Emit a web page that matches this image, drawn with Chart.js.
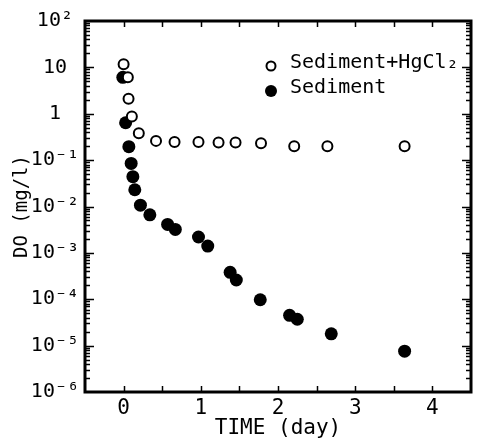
<!DOCTYPE html>
<html>
<head>
<meta charset="utf-8">
<script src="https://cdn.jsdelivr.net/npm/chart.js@4/dist/chart.umd.min.js"></script>
<style>
html,body{margin:0;padding:0;background:#fff;}
#wrap{width:478px;height:441px;}
</style>
</head>
<body>
<div id="wrap"><canvas id="c" width="478" height="441"></canvas></div>
<script>
// ---- data ----
const hgTime = [0.00, 0.055, 0.064, 0.107, 0.197, 0.42, 0.66, 0.97, 1.23, 1.45, 1.78, 2.21, 2.64, 3.64];
const hgDO   = [11.7, 6.1, 2.1, 0.87, 0.38, 0.26, 0.245, 0.245, 0.24, 0.24, 0.23, 0.20, 0.20, 0.20];
const sedTime = [-0.01, 0.026, 0.068, 0.098, 0.12, 0.145, 0.218, 0.34, 0.57, 0.67, 0.97, 1.09, 1.38, 1.46, 1.77, 2.15, 2.25, 2.69, 3.64];
const sedDO   = [6.1, 0.64, 0.195, 0.085, 0.044, 0.023, 0.0107, 0.0066, 0.0041, 0.0032, 0.0022, 0.0014, 0.00038, 0.00026, 0.0000975, 4.5e-5, 3.7e-5, 1.8e-5, 7.6e-6];
const seriesNames = ['Sediment+HgCl\u2082', 'Sediment'];
const xTickValues = [0, 1, 2, 3, 4];
const xTickLabels = ['0', '1', '2', '3', '4'];
const yTickValues = [1e-6, 1e-5, 1e-4, 1e-3, 1e-2, 1e-1, 1, 10, 100];
const yTickLabels = ['10\u207B\u2076', '10\u207B\u2075', '10\u207B\u2074', '10\u207B\u00B3', '10\u207B\u00B2', '10\u207B\u00B9', '1', '10', '10\u00B2'];
const xTitle = 'TIME (day)';
const yTitle = 'DO (mg/l)';

const FONT = "'DejaVu Sans Mono', monospace";

const frame = {
  id: 'frame',
  afterDatasetsDraw(chart) {
    const ctx = chart.ctx, a = chart.chartArea;
    const xs = chart.scales.x, ys = chart.scales.y;
    ctx.save();
    ctx.strokeStyle = '#000';
    // ticks
    ctx.lineWidth = 1.5;
    ctx.beginPath();
    for (let v = -0.5; v <= 4.5001; v += 0.5) {
      const px = Math.round(xs.getPixelForValue(v)) + 0.5;
      if (px <= a.left + 2 || px >= a.right - 2) continue;
      ctx.moveTo(px, a.bottom); ctx.lineTo(px, a.bottom - 6);
      ctx.moveTo(px, a.top); ctx.lineTo(px, a.top + 6);
    }
    for (let d = -6; d <= 1; d++) {
      for (let m = 1; m <= 9; m++) {
        const v = m * Math.pow(10, d);
        const py = Math.round(ys.getPixelForValue(v)) + 0.5;
        const len = m === 1 ? 9 : 5;
        if (m === 1 && d === -6) continue;
        ctx.moveTo(a.left, py); ctx.lineTo(a.left + len, py);
        ctx.moveTo(a.right, py); ctx.lineTo(a.right - len, py);
      }
    }
    ctx.stroke();
    // box
    ctx.lineWidth = 3;
    ctx.strokeRect(a.left, a.top, a.right - a.left, a.bottom - a.top);
    // legend
    const ds = chart.data.datasets;
    const rows = [{y: 66, r: 4.5}, {y: 91, r: 6}];
    ctx.font = "20px " + FONT;
    ctx.textBaseline = 'middle';
    ctx.textAlign = 'left';
    rows.forEach((row, i) => {
      const d = ds[i];
      ctx.beginPath();
      ctx.arc(271, row.y, row.r, 0, Math.PI * 2);
      ctx.fillStyle = d.pointBackgroundColor;
      ctx.fill();
      if (d.pointBorderWidth > 0) {
        ctx.lineWidth = 2;
        ctx.strokeStyle = d.pointBorderColor;
        ctx.stroke();
      }
      ctx.fillStyle = '#000';
      ctx.fillText(d.label, 290, row.y - 3);
    });
    ctx.restore();
  }
};

new Chart(document.getElementById('c'), {
  type: 'scatter',
  data: {
    datasets: [
      {
        label: seriesNames[0],
        data: hgTime.map((t, i) => ({x: t, y: hgDO[i]})),
        pointRadius: 5, pointHoverRadius: 5,
        pointBackgroundColor: '#fff', pointBorderColor: '#000', pointBorderWidth: 2,
        showLine: false
      },
      {
        label: seriesNames[1],
        data: sedTime.map((t, i) => ({x: t, y: sedDO[i]})),
        pointRadius: 6.5, pointHoverRadius: 6.5,
        pointBackgroundColor: '#000', pointBorderColor: '#000', pointBorderWidth: 0,
        showLine: false
      }
    ]
  },
  options: {
    responsive: false,
    devicePixelRatio: 1,
    animation: false,
    events: [],
    layout: {padding: {left: 0, top: 21, right: 4, bottom: 0}},
    plugins: {legend: {display: false}, tooltip: {enabled: false}},
    scales: {
      x: {
        type: 'linear', min: -0.5, max: 4.5,
        afterBuildTicks: s => { s.ticks = xTickValues.map(v => ({value: v})); },
        afterFit: s => { s.height = 49; },
        grid: {display: false, drawTicks: false},
        border: {display: false},
        ticks: {
          color: '#000', padding: 4,
          font: {family: FONT, size: 21},
          callback: (v, i) => xTickLabels[i]
        },
        title: {display: true, text: xTitle, color: '#000', font: {family: FONT, size: 21}, padding: {top: 0, bottom: 0}}
      },
      y: {
        type: 'logarithmic', min: 1e-6, max: 100,
        afterBuildTicks: s => { s.ticks = yTickValues.map(v => ({value: v})); },
        afterFit: s => { s.width = 85; },
        grid: {display: false, drawTicks: false},
        border: {display: false},
        ticks: {
          color: '#000', padding: 6, crossAlign: 'center',
          font: {family: FONT, size: 20},
          callback: (v, i) => yTickLabels[i]
        },
        title: {display: true, text: yTitle, color: '#000', font: {family: FONT, size: 19}, padding: {top: 11, bottom: 0}}
      }
    }
  },
  plugins: [frame]
});
</script>
</body>
</html>
